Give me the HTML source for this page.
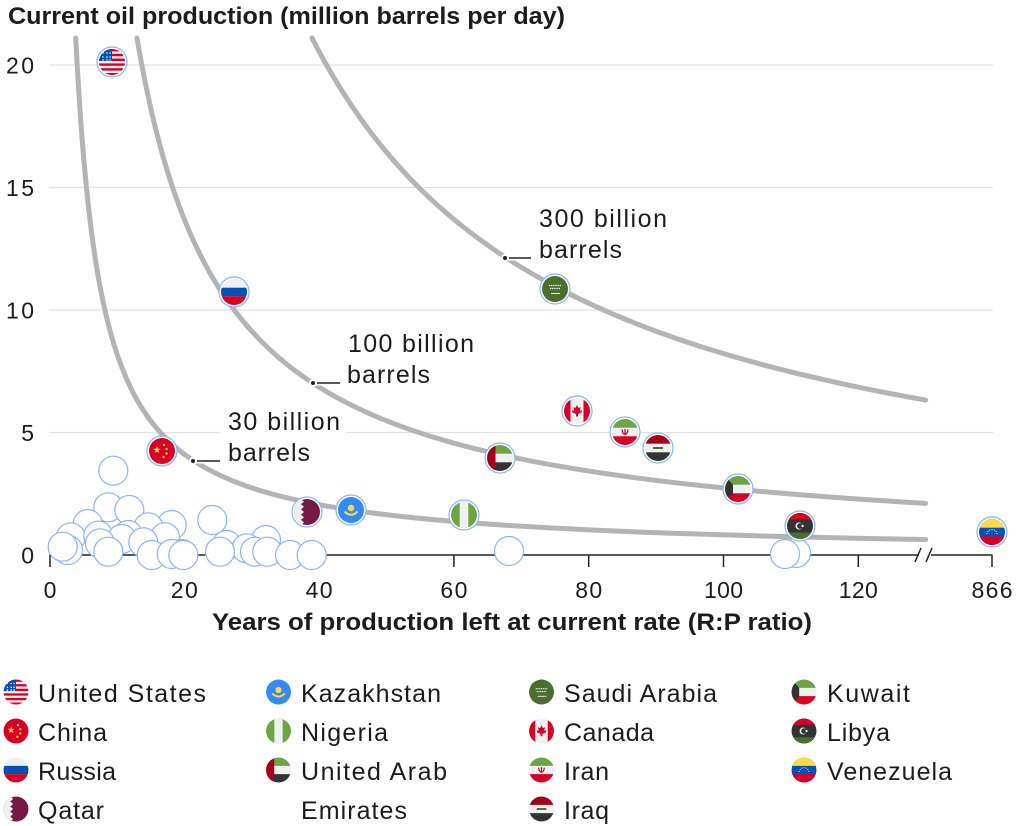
<!DOCTYPE html>
<html><head><meta charset="utf-8"><style>
html,body{margin:0;padding:0;background:#fff;}
svg{display:block;}
text{font-family:"Liberation Sans",sans-serif;fill:#1c1c1c;}
</style></head><body>
<svg width="1024" height="826" viewBox="0 0 1024 826" xmlns="http://www.w3.org/2000/svg">
<defs>
<clipPath id="cc"><circle cx="0" cy="0" r="13"/></clipPath>
<g id="us" clip-path="url(#cc)">
<rect x="-13" y="-13" width="26" height="26" fill="#f0f0f0"/>
<rect x="-13" y="-13" width="26" height="2.4" fill="#d80027"/>
<rect x="-13" y="-8.2" width="26" height="2.4" fill="#d80027"/>
<rect x="-13" y="-3.4" width="26" height="2.4" fill="#d80027"/>
<rect x="-13" y="1.4" width="26" height="2.4" fill="#d80027"/>
<rect x="-13" y="6.2" width="26" height="2.4" fill="#d80027"/>
<rect x="-13" y="11" width="26" height="2.4" fill="#d80027"/>
<rect x="-13" y="-13" width="13" height="12" fill="#0052b4"/>
<g fill="#f0f0f0"><circle cx="-9" cy="-9" r="0.8"/><circle cx="-5" cy="-9" r="0.8"/><circle cx="-2" cy="-9" r="0.8"/><circle cx="-9" cy="-5" r="0.8"/><circle cx="-5" cy="-5" r="0.8"/><circle cx="-2" cy="-5" r="0.8"/><circle cx="-9" cy="-2" r="0.8"/><circle cx="-5" cy="-2" r="0.8"/><circle cx="-2" cy="-2" r="0.8"/></g>
</g>
<g id="cn" clip-path="url(#cc)">
<rect x="-13" y="-13" width="26" height="26" fill="#d80027"/>
<polygon transform="translate(-5,-1)" fill="#ffda44" points="0,-4 0.9,-1.24 3.8,-1.24 1.46,0.47 2.35,3.24 0,1.53 -2.35,3.24 -1.46,0.47 -3.8,-1.24 -0.9,-1.24"/>
<g fill="#ffda44"><circle cx="2" cy="-6" r="1.2"/><circle cx="4.5" cy="-2" r="1.2"/><circle cx="4.5" cy="2.5" r="1.2"/><circle cx="1.5" cy="6" r="1.2"/></g>
</g>
<g id="ru" clip-path="url(#cc)">
<rect x="-13" y="-13" width="26" height="26" fill="#f0f0f0"/>
<rect x="-13" y="-4.3" width="26" height="8.6" fill="#0052b4"/>
<rect x="-13" y="4.3" width="26" height="9" fill="#d80027"/>
</g>
<g id="qa" clip-path="url(#cc)">
<rect x="-13" y="-13" width="26" height="26" fill="#751a46"/>
<polygon fill="#f0f0f0" points="-13,-13 -6,-13 -3,-10.4 -6,-7.8 -3,-5.2 -6,-2.6 -3,0 -6,2.6 -3,5.2 -6,7.8 -3,10.4 -6,13 -13,13"/>
</g>
<g id="kz" clip-path="url(#cc)">
<rect x="-13" y="-13" width="26" height="26" fill="#338af3"/>
<circle cx="0" cy="-2" r="3.2" fill="#ffda44"/>
<path d="M-6.5,1.5 Q0,8 6.5,1.5" stroke="#ffda44" stroke-width="2" fill="none"/>
</g>
<g id="ng" clip-path="url(#cc)">
<rect x="-13" y="-13" width="26" height="26" fill="#6da544"/>
<rect x="-4.3" y="-13" width="8.6" height="26" fill="#f0f0f0"/>
</g>
<g id="ae" clip-path="url(#cc)">
<rect x="-13" y="-13" width="26" height="26" fill="#f0f0f0"/>
<rect x="-13" y="-13" width="26" height="8.7" fill="#6da544"/>
<rect x="-13" y="4.3" width="26" height="9" fill="#333"/>
<rect x="-13" y="-13" width="8.5" height="26" fill="#a2001d"/>
</g>
<g id="sa" clip-path="url(#cc)">
<rect x="-13" y="-13" width="26" height="26" fill="#496e2d"/>
<path d="M-6,-3.5 H6 M-5,-0.5 H5" stroke="#f0f0f0" stroke-width="1.2" stroke-dasharray="1.2 0.6" fill="none"/>
<path d="M-4,4.5 H5" stroke="#f0f0f0" stroke-width="1" fill="none"/>
</g>
<g id="ca" clip-path="url(#cc)">
<rect x="-13" y="-13" width="26" height="26" fill="#f0f0f0"/>
<rect x="-13" y="-13" width="6.5" height="26" fill="#d80027"/>
<rect x="6.5" y="-13" width="6.5" height="26" fill="#d80027"/>
<polygon fill="#d80027" points="0,-6 1.5,-3 3.5,-4 3,0 5,-1 4.5,1.5 1,3 1,5.5 -1,5.5 -1,3 -4.5,1.5 -5,-1 -3,0 -3.5,-4 -1.5,-3"/>
</g>
<g id="ir" clip-path="url(#cc)">
<rect x="-13" y="-13" width="26" height="26" fill="#f0f0f0"/>
<rect x="-13" y="-13" width="26" height="8.7" fill="#6da544"/>
<rect x="-13" y="4.3" width="26" height="9" fill="#d80027"/>
<path d="M-2.8,-2.5 Q-2.8,2 0,2 Q2.8,2 2.8,-2.5 M0,-3 V3" stroke="#d80027" stroke-width="1.3" fill="none"/>
</g>
<g id="iq" clip-path="url(#cc)">
<rect x="-13" y="-13" width="26" height="26" fill="#f0f0f0"/>
<rect x="-13" y="-13" width="26" height="8.7" fill="#a2001d"/>
<rect x="-13" y="4.3" width="26" height="9" fill="#333"/>
<rect x="-5" y="-1" width="10" height="2" fill="#496e2d"/>
</g>
<g id="kw" clip-path="url(#cc)">
<rect x="-13" y="-13" width="26" height="26" fill="#f0f0f0"/>
<rect x="-13" y="-13" width="26" height="8.7" fill="#6da544"/>
<rect x="-13" y="4.3" width="26" height="9" fill="#d80027"/>
<polygon fill="#333" points="-13,-13 -5,-4.3 -5,4.3 -13,13"/>
</g>
<g id="ly" clip-path="url(#cc)">
<rect x="-13" y="-13" width="26" height="26" fill="#333"/>
<rect x="-13" y="-13" width="26" height="6.5" fill="#d80027"/>
<rect x="-13" y="6.5" width="26" height="7" fill="#496e2d"/>
<circle cx="-1" cy="0" r="3.6" fill="#f0f0f0"/>
<circle cx="0" cy="0" r="2.9" fill="#333"/>
<circle cx="2.6" cy="0" r="1.2" fill="#f0f0f0"/>
</g>
<g id="ve" clip-path="url(#cc)">
<rect x="-13" y="-13" width="26" height="26" fill="#0052b4"/>
<rect x="-13" y="-13" width="26" height="8.7" fill="#ffda44"/>
<rect x="-13" y="4.3" width="26" height="9" fill="#d80027"/>
<g fill="#f0f0f0"><circle cx="-5" cy="1.5" r="0.6"/><circle cx="-4" cy="-0.6" r="0.6"/><circle cx="-2.3" cy="-1.9" r="0.6"/><circle cx="0" cy="-2.4" r="0.6"/><circle cx="2.3" cy="-1.9" r="0.6"/><circle cx="4" cy="-0.6" r="0.6"/><circle cx="5" cy="1.5" r="0.6"/></g>
</g>
</defs>

<!-- Title -->
<text x="8" y="24" font-size="24" font-weight="bold" textLength="557" lengthAdjust="spacingAndGlyphs">Current oil production (million barrels per day)</text>

<!-- grid -->
<g stroke="#e2e2e2" stroke-width="1.2">
<line x1="49.5" y1="65" x2="993" y2="65"/>
<line x1="49.5" y1="187.5" x2="993" y2="187.5"/>
<line x1="49.5" y1="310" x2="993" y2="310"/>
<line x1="49.5" y1="432.5" x2="993" y2="432.5"/>
</g>

<!-- y labels -->
<g font-size="23" text-anchor="end">
<text x="34" y="73.5" textLength="28">20</text>
<text x="34" y="196" textLength="28">15</text>
<text x="34" y="318.5" textLength="28">10</text>
<text x="34" y="441">5</text>
<text x="34" y="563.5">0</text>
</g>

<!-- white box behind 30B label -->
<rect x="220" y="408" width="126" height="60" fill="#fff"/>

<!-- curves -->
<g fill="none" stroke="#b4b4b4" stroke-width="5" stroke-linecap="round">
<path d="M75.75,38.03 Q80.23,126.32 86.57,188.87 Q92.27,245.20 100.05,286.50 Q107.27,324.87 116.9,353.63 Q128.13,387.20 143.86,411.16 Q160.51,436.55 184.3,454.30 Q211.26,474.45 251.7,487.87 Q292.14,501.30 352.8,510.26 Q407.94,518.39 487.6,524.03 Q569.74,529.83 689.8,533.81 Q789.40,537.10 925.7,539.52"/>
<path d="M137.01,38.03 Q151.18,121.72 170.82,182.09 Q190.57,242.80 218.0,286.50 Q246.08,331.26 285.4,363.22 Q327.03,397.06 386.5,420.76 Q442.67,443.13 521.3,459.11 Q604.56,476.03 723.5,487.87 Q811.39,496.63 925.7,503.37"/>
<path d="M312.04,38.03 Q356.89,126.35 420.2,188.87 Q477.22,245.20 555.0,286.50 Q627.21,324.86 723.5,353.63 Q811.39,379.90 925.7,400.09"/>
</g>

<!-- leaders and dots -->
<g>
<line x1="505" y1="258" x2="531" y2="258" stroke="#fff" stroke-width="5"/>
<line x1="505" y1="258" x2="531" y2="258" stroke="#222" stroke-width="1.5"/>
<circle cx="505" cy="258" r="3" fill="#222" stroke="#fff" stroke-width="2"/>
<line x1="313" y1="383" x2="340" y2="383" stroke="#fff" stroke-width="5"/>
<line x1="313" y1="383" x2="340" y2="383" stroke="#222" stroke-width="1.5"/>
<circle cx="313" cy="383" r="3" fill="#222" stroke="#fff" stroke-width="2"/>
<line x1="193" y1="461" x2="220" y2="461" stroke="#fff" stroke-width="5"/>
<line x1="193" y1="461" x2="220" y2="461" stroke="#222" stroke-width="1.5"/>
<circle cx="193" cy="461" r="3" fill="#222" stroke="#fff" stroke-width="2"/>
</g>

<!-- annotation text -->
<g font-size="25">
<text x="539" y="227" textLength="128">300 billion</text>
<text x="539" y="258" textLength="83">barrels</text>
<text x="348" y="352" textLength="126">100 billion</text>
<text x="347" y="383" textLength="83">barrels</text>
<text x="228" y="430" textLength="112">30 billion</text>
<text x="228" y="461" textLength="82">barrels</text>
</g>

<!-- axis -->
<g stroke="#222" stroke-width="1.5" fill="none">
<line x1="49.5" y1="555" x2="919" y2="555"/>
<line x1="931" y1="555" x2="992.5" y2="555"/>
<line x1="915" y1="562" x2="921" y2="548"/>
<line x1="926" y1="562" x2="932" y2="548"/>
<line x1="50" y1="555" x2="50" y2="567"/>
<line x1="184.3" y1="555" x2="184.3" y2="567"/>
<line x1="319.1" y1="555" x2="319.1" y2="567"/>
<line x1="453.9" y1="555" x2="453.9" y2="567"/>
<line x1="588.7" y1="555" x2="588.7" y2="567"/>
<line x1="723.5" y1="555" x2="723.5" y2="567"/>
<line x1="858.3" y1="555" x2="858.3" y2="567"/>
<line x1="992" y1="555" x2="992" y2="567"/>
</g>
<g font-size="23" text-anchor="middle">
<text x="50" y="598">0</text>
<text x="184.3" y="598" textLength="27">20</text>
<text x="319.1" y="598" textLength="27">40</text>
<text x="453.9" y="598" textLength="27">60</text>
<text x="588.7" y="598" textLength="27">80</text>
<text x="723.5" y="598" textLength="39">100</text>
<text x="858.3" y="598" textLength="39">120</text>
<text x="992" y="598" textLength="41">866</text>
</g>
<text x="212" y="630" font-size="24" font-weight="bold" textLength="600" lengthAdjust="spacingAndGlyphs">Years of production left at current rate (R:P ratio)</text>

<!-- bubbles -->
<g fill="#fff" stroke="#8ab4f8" stroke-width="1.2">
<circle cx="113.3" cy="470.7" r="14.5"/>
<circle cx="108.3" cy="507.3" r="14.5"/>
<circle cx="129.3" cy="510" r="14.5"/>
<circle cx="87.7" cy="524" r="14.5"/>
<circle cx="171.7" cy="525" r="14.5"/>
<circle cx="148.3" cy="527.3" r="14.5"/>
<circle cx="212.3" cy="520" r="14.5"/>
<circle cx="70.7" cy="537.3" r="14.5"/>
<circle cx="98.3" cy="535.7" r="14.5"/>
<circle cx="128" cy="535" r="14.5"/>
<circle cx="165" cy="537.3" r="14.5"/>
<circle cx="266" cy="540" r="14.5"/>
<circle cx="226.7" cy="545" r="14.5"/>
<circle cx="246.7" cy="548.3" r="14.5"/>
<circle cx="121.7" cy="539" r="14.5"/>
<circle cx="143.3" cy="542.3" r="14.5"/>
<circle cx="100" cy="543.3" r="14.5"/>
<circle cx="68" cy="550" r="14.5"/>
<circle cx="62.7" cy="546.7" r="14.5"/>
<circle cx="108.3" cy="551.7" r="14.5"/>
<circle cx="151.7" cy="555" r="14.5"/>
<circle cx="181.7" cy="554" r="14.5"/>
<circle cx="171.7" cy="554" r="14.5"/>
<circle cx="183.3" cy="555" r="14.5"/>
<circle cx="220" cy="551.7" r="14.5"/>
<circle cx="255" cy="551.7" r="14.5"/>
<circle cx="267.3" cy="551.7" r="14.5"/>
<circle cx="290" cy="555" r="14.5"/>
<circle cx="311.7" cy="555" r="14.5"/>
<circle cx="509" cy="551" r="14.5"/>
<circle cx="796" cy="553" r="14.5"/>
<circle cx="785" cy="554" r="14.5"/>
</g>

<!-- plotted flags -->
<g>
<g transform="translate(112,62)"><circle r="15" fill="#fff" stroke="#8ab4f8" stroke-width="1.2"/><use href="#us"/></g>
<g transform="translate(234,292)"><circle r="15" fill="#fff" stroke="#8ab4f8" stroke-width="1.2"/><use href="#ru"/></g>
<g transform="translate(555,289)"><circle r="15" fill="#fff" stroke="#8ab4f8" stroke-width="1.2"/><use href="#sa"/></g>
<g transform="translate(162,451)"><circle r="15" fill="#fff" stroke="#8ab4f8" stroke-width="1.2"/><use href="#cn"/></g>
<g transform="translate(307,512)"><circle r="15" fill="#fff" stroke="#8ab4f8" stroke-width="1.2"/><use href="#qa"/></g>
<g transform="translate(351,510)"><circle r="15" fill="#fff" stroke="#8ab4f8" stroke-width="1.2"/><use href="#kz"/></g>
<g transform="translate(464,515)"><circle r="15" fill="#fff" stroke="#8ab4f8" stroke-width="1.2"/><use href="#ng"/></g>
<g transform="translate(500,458)"><circle r="15" fill="#fff" stroke="#8ab4f8" stroke-width="1.2"/><use href="#ae"/></g>
<g transform="translate(577,411)"><circle r="15" fill="#fff" stroke="#8ab4f8" stroke-width="1.2"/><use href="#ca"/></g>
<g transform="translate(625,432)"><circle r="15" fill="#fff" stroke="#8ab4f8" stroke-width="1.2"/><use href="#ir"/></g>
<g transform="translate(658,448)"><circle r="15" fill="#fff" stroke="#8ab4f8" stroke-width="1.2"/><use href="#iq"/></g>
<g transform="translate(738,489)"><circle r="15" fill="#fff" stroke="#8ab4f8" stroke-width="1.2"/><use href="#kw"/></g>
<g transform="translate(800,526)"><circle r="15" fill="#fff" stroke="#8ab4f8" stroke-width="1.2"/><use href="#ly"/></g>
<g transform="translate(992,532)"><circle r="15" fill="#fff" stroke="#8ab4f8" stroke-width="1.2"/><use href="#ve"/></g>
</g>

<!-- legend -->
<g>
<use href="#us" transform="translate(16,692) scale(0.96)"/>
<use href="#cn" transform="translate(16,731) scale(0.96)"/>
<use href="#ru" transform="translate(16,770) scale(0.96)"/>
<use href="#qa" transform="translate(16,809) scale(0.96)"/>
<use href="#kz" transform="translate(278.5,692) scale(0.96)"/>
<use href="#ng" transform="translate(278.5,731) scale(0.96)"/>
<use href="#ae" transform="translate(278.5,770) scale(0.96)"/>
<use href="#sa" transform="translate(541.5,692) scale(0.96)"/>
<use href="#ca" transform="translate(541.5,731) scale(0.96)"/>
<use href="#ir" transform="translate(541.5,770) scale(0.96)"/>
<use href="#iq" transform="translate(541.5,809) scale(0.96)"/>
<use href="#kw" transform="translate(804,692) scale(0.96)"/>
<use href="#ly" transform="translate(804,731) scale(0.96)"/>
<use href="#ve" transform="translate(804,770) scale(0.96)"/>
</g>
<g font-size="25">
<text x="38" y="702" textLength="168">United States</text>
<text x="38" y="741" textLength="69">China</text>
<text x="38" y="780" textLength="78">Russia</text>
<text x="38" y="819" textLength="66">Qatar</text>
<text x="301" y="702" textLength="140">Kazakhstan</text>
<text x="301" y="741" textLength="87">Nigeria</text>
<text x="301" y="780" textLength="146">United Arab</text>
<text x="301" y="819" textLength="106">Emirates</text>
<text x="564" y="702" textLength="153">Saudi Arabia</text>
<text x="564" y="741" textLength="90">Canada</text>
<text x="564" y="780" textLength="45">Iran</text>
<text x="564" y="819" textLength="45">Iraq</text>
<text x="827" y="702" textLength="83">Kuwait</text>
<text x="827" y="741" textLength="63">Libya</text>
<text x="827" y="780" textLength="125">Venezuela</text>
</g>
</svg>
</body></html>
